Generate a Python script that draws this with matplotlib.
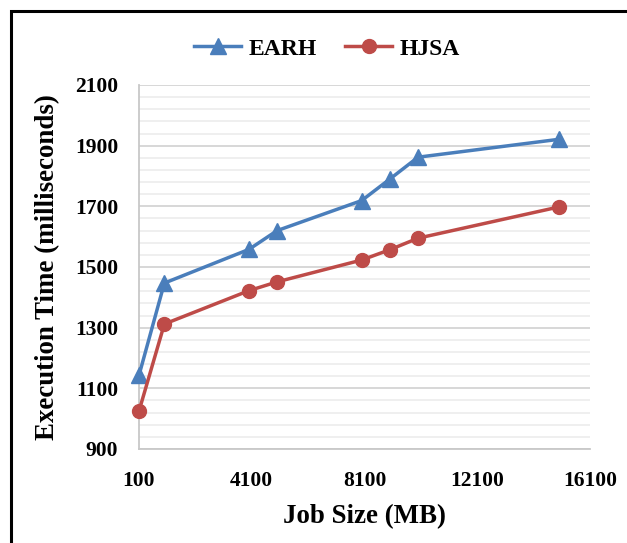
import matplotlib
matplotlib.use("Agg")
import matplotlib.pyplot as plt
from matplotlib.patches import Rectangle

plt.rcParams['font.family'] = ['Liberation Serif', 'DejaVu Serif']
plt.rcParams['font.weight'] = 'bold'

# data
job_size = [100, 1000, 4000, 5000, 8000, 9000, 10000, 15000]
earh = [1143, 1447, 1558, 1620, 1719, 1790, 1862, 1921]
hjsa = [1025, 1312, 1422, 1451, 1523, 1557, 1595, 1698]
x_ticks = [100, 4100, 8100, 12100, 16100]
y_ticks = [900, 1100, 1300, 1500, 1700, 1900, 2100]
y_minor = list(range(900, 2101, 40))

blue = '#4a7ebb'
red = '#be4b48'

fig = plt.figure(figsize=(6.27, 5.43), dpi=100)
ax = fig.add_axes([139/627, 1 - 449/543, (590 - 139)/627, (449 - 85)/543])

ax.plot(job_size, earh, color=blue, lw=2.5, marker='^', ms=11, label='EARH', clip_on=False, zorder=3)
ax.plot(job_size, hjsa, color=red, lw=2.5, marker='o', ms=10, label='HJSA', clip_on=False, zorder=3)

ax.set_xlim(100, 16100)
ax.set_ylim(900, 2100)
ax.set_xticks(x_ticks)
ax.set_yticks(y_ticks)
ax.set_yticks(y_minor, minor=True)
ax.grid(axis='y', which='major', color='#d4d4d4', lw=1.3)
ax.grid(axis='y', which='minor', color='#eeeeee', lw=1.3)
ax.set_axisbelow(True)
ax.tick_params(which='both', length=0, labelsize=15.5)
ax.tick_params(axis='x', pad=16)
ax.tick_params(axis='y', pad=15)
for lab in ax.get_xticklabels() + ax.get_yticklabels():
    lab.set_fontweight('bold')

for s in ['top', 'right']:
    ax.spines[s].set_visible(False)
for s in ['left', 'bottom']:
    ax.spines[s].set_color('#c8c8c8')
    ax.spines[s].set_linewidth(1.3)

ax.set_xlabel('Job Size (MB)', fontsize=19.4, fontweight='bold')
ax.set_ylabel('Execution Time (milliseconds)', fontsize=19.4, fontweight='bold')
ax.xaxis.set_label_coords(0.5, -(517 - 449)/364, transform=ax.transAxes)
ax.yaxis.set_label_coords(-(139 - 48)/451, 0.5, transform=ax.transAxes)
ax.xaxis.label.set_va('center')
ax.yaxis.label.set_va('center')

leg = fig.legend(loc='center', bbox_to_anchor=(327/627, 1 - 49/543), ncol=2, frameon=False,
                 prop={'size': 17, 'weight': 'bold'}, handlelength=2.0, columnspacing=1.2,
                 handletextpad=0.3)

# outer border of the picture
fig.patches.append(Rectangle((11/627, -0.1), 1.2, 1 - 11/543 + 0.1, transform=fig.transFigure,
                             fill=False, ec='black', lw=2.2))

fig.savefig('out.png', dpi=100)
